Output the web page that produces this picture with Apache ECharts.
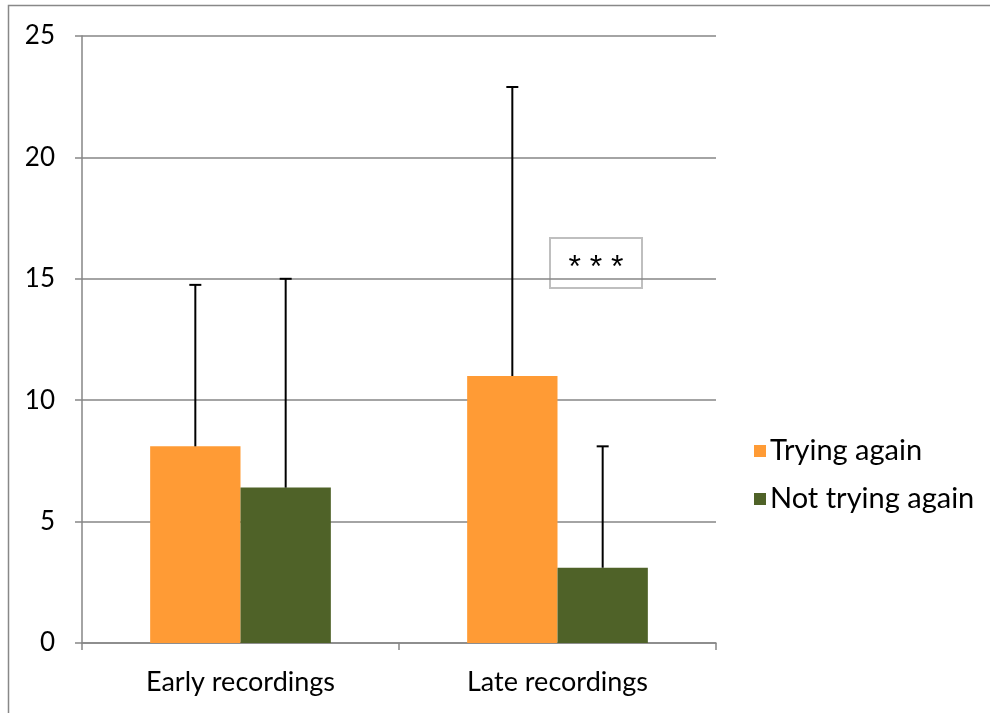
<!DOCTYPE html>
<html>
<head>
<meta charset="utf-8">
<script src="https://cdn.jsdelivr.net/npm/echarts@6/dist/echarts.min.js"></script>
<style>
html,body{margin:0;padding:0;background:#fff;}
#chart{width:990px;height:713px;}
</style>
</head>
<body>
<div id="chart"></div>
<script>
const categories = ['Early recordings', 'Late recordings'];
const seriesNames = ['Trying again', 'Not trying again'];
const tryingAgain = [8.1, 11.0];
const notTryingAgain = [6.4, 3.1];
const tryingAgainErr = [6.65, 11.9];
const notTryingAgainErr = [8.6, 5.0];
const yTicks = [0, 5, 10, 15, 20, 25];

const FONT = 'Lato';
const colors = ['#FF9B35', '#4F6228'];
const BAR_FRAC = 0.285;

function errorSeries(values, errs, side) {
  const data = values.map((v, i) => [i, v, v + errs[i]]);
  return {
    type: 'custom',
    name: 'err' + side,
    z: 10,
    silent: true,
    tooltip: {show: false},
    legendHoverLink: false,
    renderItem: function (params, api) {
      const band = api.size([1, 0])[0];
      const bw = band * BAR_FRAC;
      const base = api.coord([api.value(0), api.value(1)]);
      const top = api.coord([api.value(0), api.value(2)]);
      const x = base[0] + side * bw / 2;
      const cap = 6;
      return {
        type: 'group',
        children: [
          {type: 'line', shape: {x1: x, y1: base[1], x2: x, y2: top[1]}, style: {stroke: '#000', lineWidth: 2}},
          {type: 'line', shape: {x1: x - cap, y1: top[1], x2: x + cap, y2: top[1]}, style: {stroke: '#000', lineWidth: 2}}
        ]
      };
    },
    data: data
  };
}

const chart = echarts.init(document.getElementById('chart'));
chart.setOption({
  animation: false,
  backgroundColor: '#fff',
  textStyle: {fontFamily: FONT},
  grid: {left: 82, right: 274, top: 36, bottom: 70, containLabel: false},
  legend: {
    data: seriesNames,
    orient: 'vertical',
    left: 749,
    top: 431,
    itemWidth: 12,
    itemHeight: 12,
    itemGap: 18,
    icon: 'rect',
    textStyle: {fontFamily: FONT, fontSize: 29, color: '#000', lineHeight: 30, padding: [0, 0, 0, -1]}
  },
  xAxis: {
    type: 'category',
    data: categories,
    axisLine: {lineStyle: {color: '#868686', width: 1.5}},
    axisTick: {show: true, length: 7, lineStyle: {color: '#868686', width: 1.5}},
    axisLabel: {fontFamily: FONT, fontSize: 27, color: '#000', margin: 26}
  },
  yAxis: {
    type: 'value',
    min: 0,
    max: 25,
    interval: 5,
    axisLine: {show: true, lineStyle: {color: '#868686', width: 1.5}},
    axisTick: {show: true, length: 7, lineStyle: {color: '#868686', width: 1.5}},
    splitLine: {show: true, lineStyle: {color: '#868686', width: 1.5}},
    axisLabel: {fontFamily: FONT, fontSize: 26, color: '#000', margin: 27,
      formatter: function (v) { return yTicks.indexOf(v) >= 0 ? String(v) : ''; }}
  },
  series: [
    {name: seriesNames[0], type: 'bar', data: tryingAgain, barWidth: (BAR_FRAC * 100) + '%', barGap: '0%', itemStyle: {color: colors[0]}},
    {name: seriesNames[1], type: 'bar', data: notTryingAgain, barWidth: (BAR_FRAC * 100) + '%', barGap: '0%', itemStyle: {color: colors[1]}},
    errorSeries(tryingAgain, tryingAgainErr, -1),
    errorSeries(notTryingAgain, notTryingAgainErr, 1)
  ],
  graphic: [
    {type: 'rect', silent: true, z: 100, shape: {x: 8.5, y: 5.5, width: 1200, height: 900}, style: {fill: 'none', stroke: '#888', lineWidth: 1.5}},
    {type: 'group', z: 100, left: 549, top: 237, children: [
      {type: 'rect', shape: {x: 0, y: 0, width: 92, height: 50}, style: {fill: '#fff', stroke: '#bfbfbf', lineWidth: 2}},
      {type: 'text', style: {x: 46, y: 30, text: '* * *', font: '32px "Liberation Sans"', fill: '#000', align: 'center', verticalAlign: 'middle'}}
    ]}
  ]
});
</script>
</body>
</html>
